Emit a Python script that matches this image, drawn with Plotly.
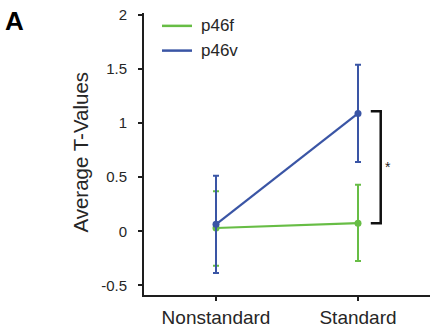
import plotly.graph_objects as go

categories = ["Nonstandard", "Standard"]
series_names = ["p46f", "p46v"]
p46f_mean = [0.03, 0.075]
p46f_err_up = [0.34, 0.355]
p46f_err_down = [0.35, 0.35]
p46v_mean = [0.064, 1.09]
p46v_err_up = [0.45, 0.45]
p46v_err_down = [0.45, 0.45]
y_ticks = [-0.5, 0, 0.5, 1, 1.5, 2]
y_tick_labels = ["-0.5", "0", "0.5", "1", "1.5", "2"]

GREEN = "#67bd45"
BLUE = "#3a55a5"
AXIS = "#1e1e1e"
TEXT = "#262626"
FONT = "Arial, Liberation Sans, sans-serif"

xpos = list(range(len(categories)))

fig = go.Figure()
for name, mean, up, down, col in [
    (series_names[0], p46f_mean, p46f_err_up, p46f_err_down, GREEN),
    (series_names[1], p46v_mean, p46v_err_up, p46v_err_down, BLUE),
]:
    fig.add_trace(go.Scatter(
        x=xpos, y=mean, mode="lines+markers", name=name,
        line=dict(color=col, width=2.2),
        marker=dict(color=col, size=7),
        error_y=dict(type="data", array=up, arrayminus=down, symmetric=False,
                     color=col, thickness=2, width=3),
        showlegend=False,
    ))

# manual legend
for i, (name, col) in enumerate([(series_names[0], GREEN), (series_names[1], BLUE)]):
    ypx = 26 + 25 * i
    yp = (298 - ypx) / 285
    fig.add_shape(type="line", xref="paper", yref="paper",
                  x0=(162 - 144) / 286, x1=(192 - 144) / 286, y0=yp, y1=yp,
                  line=dict(color=col, width=2.5))
    fig.add_annotation(xref="paper", yref="paper", x=(199 - 144) / 286, y=yp,
                       text=name, showarrow=False, xanchor="left", yanchor="middle",
                       font=dict(family=FONT, size=17, color=TEXT))

# significance bracket
top = p46v_mean[1] + 0.02
bot = p46f_mean[1]
bx0, bx1 = 1.09, 1.16
fig.add_shape(type="path", xref="x", yref="y",
              path=f"M {bx0} {top} L {bx1} {top} L {bx1} {bot} L {bx0} {bot}",
              line=dict(color="#111111", width=2.5))
fig.add_annotation(xref="x", yref="y", x=1.21, y=(top + bot) / 2, text="*",
                   showarrow=False, font=dict(family=FONT, size=14, color=TEXT))

# y-axis title
fig.add_annotation(xref="paper", yref="paper", x=(81 - 144) / 286, y=0.505,
                   text="Average T-Values", textangle=-90, showarrow=False,
                   xanchor="center", yanchor="middle",
                   font=dict(family=FONT, size=20.5, color=TEXT))

# panel label
fig.add_annotation(xref="paper", yref="paper", x=(3 - 144) / 286, y=(298 - 21) / 285,
                   text="<b>A</b>", showarrow=False, xanchor="left", yanchor="middle",
                   font=dict(family=FONT, size=26, color="#000000"))

fig.update_layout(
    width=431, height=329,
    margin=dict(l=144, r=1, t=13, b=31),
    paper_bgcolor="white", plot_bgcolor="white",
    font=dict(family=FONT, color=TEXT),
    xaxis=dict(range=[-0.507, 1.507], tickvals=xpos, ticktext=categories,
               showgrid=False, zeroline=False, showline=True, linecolor=AXIS,
               linewidth=2, ticks="outside", ticklen=4, tickwidth=2, tickcolor=AXIS,
               tickfont=dict(family=FONT, size=19, color=TEXT)),
    yaxis=dict(range=[-0.59, 2.02], tickvals=y_ticks, ticktext=y_tick_labels,
               showgrid=False, zeroline=False, showline=True, linecolor=AXIS,
               linewidth=2, ticks="outside", ticklen=4, tickwidth=2, tickcolor=AXIS,
               ticklabelstandoff=8,
               tickfont=dict(family=FONT, size=15, color=TEXT)),
)

fig.write_html("out.html", config={"displayModeBar": False},
               post_script="document.body.style.margin='0';document.body.style.overflow='hidden';")
